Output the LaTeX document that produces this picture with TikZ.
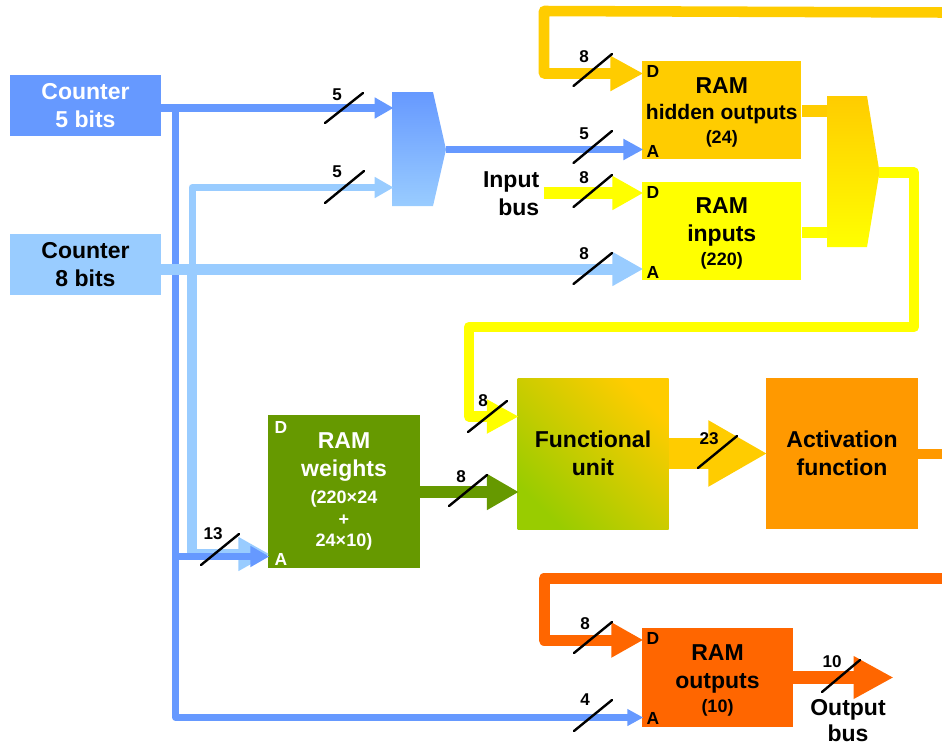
\documentclass[tikz,border=0pt]{standalone}
\usepackage{fontspec}
\setmainfont{Liberation Sans}
\usetikzlibrary{arrows.meta}
\definecolor{cblue}{HTML}{6699FF}
\definecolor{clight}{HTML}{99CCFF}
\definecolor{cgold}{HTML}{FFCC00}
\definecolor{cyel}{HTML}{FFFF00}
\definecolor{cgreen}{HTML}{669900}
\definecolor{clime}{HTML}{99CC00}
\definecolor{cor}{HTML}{FF9900}
\definecolor{cdor}{HTML}{FF6600}
\newcommand{\fbig}{\fontsize{17.25}{21}\selectfont\bfseries}
\newcommand{\fmid}{\fontsize{15.75}{21}\selectfont}
\newcommand{\fsml}{\fontsize{13.5}{21}\selectfont}
\newcommand{\topstrut}{\rule{0pt}{15.5pt}}
\tikzset{
  x=0.75pt,y=-0.75pt,
  box/.style={inner sep=0pt,align=center,font=\fbig},
  port/.style={inner sep=0pt,font=\fontsize{13.1}{15}\selectfont\bfseries,text height=9.4pt,text depth=0pt},
  num/.style={inner sep=0pt,font=\fontsize{12.8}{15}\selectfont\bfseries,text height=9.2pt,text depth=0pt},
  slash/.style={draw=black,line width=1.8pt,line cap=round},
  wire/.style={line join=round},
  hd/.style 2 args={arrows={-Triangle[length=#1,width=#2]},shorten >=-1.2pt},
}
\newcommand{\busmark}[7]{%
  \coordinate (#1a) at (#2,#3);
  \coordinate (#1b) at (#4,#5);
  \draw[slash] (#1a) -- (#1b);
  \node[num] (#1t) at (#6) {#7};
}
\begin{document}
\begin{tikzpicture}
\useasboundingbox (0,0) rectangle (942,746);
% boxes
\node[box,fill=cblue,text=white,minimum width=113.25pt,minimum height=45.75pt] (cnt5) at (85.5,105.5) {Counter\\5 bits};
\node[box,fill=clight,minimum width=113.25pt,minimum height=45.75pt] (cnt8) at (85.5,264.5) {Counter\\8 bits};
\node[box,fill=cgold,minimum width=119.6pt,minimum height=73.5pt] (hid) at (721.75,110) {\topstrut RAM\\[-1.5pt]{\fmid hidden outputs}\\[-3pt]{\fsml (24)}};
\node[box,fill=cyel,minimum width=119.6pt,minimum height=73.5pt] (inp) at (721.75,231) {\topstrut RAM\\inputs\\[-3pt]{\fsml (220)}};
\node[box,fill=cgreen,text=white,minimum width=114pt,minimum height=114.75pt] (rw) at (344,491.5) {RAM\\weights\\[-0.75pt]{\fsml (220×24}\\[-5pt]{\fsml +}\\[-5pt]{\fsml 24×10)}};
\node[box,shade,shading=axis,top color=cgold,bottom color=clime,shading angle=-45,minimum width=113.25pt,minimum height=113.25pt] (fu) at (593,453.5) {Functional\\unit};
\node[box,fill=cor,minimum width=114pt,minimum height=113.25pt] (af) at (842,453.5) {Activation\\function};
\node[box,fill=cdor,minimum width=113.25pt,minimum height=74.25pt] (rout) at (717.5,677.5) {\rule{0pt}{16.5pt}RAM\\outputs\\[-3pt]{\fsml (10)}};
% port letters
\node[port] (hidD) at (653,71) {D};
\node[port] (hidA) at (653,151) {A};
\node[port] (inpD) at (653,192) {D};
\node[port] (inpA) at (653,272) {A};
\node[port,text=white] (rwD) at (281,427) {D};
\node[port,text=white] (rwA) at (281,559) {A};
\node[port] (routD) at (653,638) {D};
\node[port] (routA) at (653,718) {A};
% free ends and junctions
\coordinate (muxBa) at (392,108);
\coordinate (muxBb) at (392,187.5);
\coordinate (muxBo) at (446,149.5);
\coordinate (muxGa) at (827,111);
\coordinate (muxGb) at (827,232.5);
\coordinate (muxGo) at (879,172.5);
\coordinate (goldR) at (942,12.5);
\coordinate (goldT) at (544,11);
\coordinate (goldB) at (544,73.5);
\coordinate (corR) at (942,578.5);
\coordinate (corL) at (544,578.5);
\coordinate (corB) at (544,640);
\coordinate (afR) at (942,453.5);
\coordinate (busIn) at (543.5,193);
\coordinate (busOut) at (892,677.5);
\coordinate (yelC) at (914,172.5);
\coordinate (yelD) at (914,327);
\coordinate (yelE) at (469,327);
\coordinate (yelF) at (469,416.5);
\coordinate (jb) at (175.5,108);
\coordinate (jl) at (192,269);
\coordinate (jc) at (175.5,556.5);
% wires behind the muxes
\draw[wire,cgold,line width=9pt] (hid.east |- muxGa) -- (muxGa);
\draw[wire,cyel,line width=8.25pt] (inp.east |- muxGb) -- (muxGb);
% muxes
\path[shade,top color=cblue,bottom color=clight] (392,92) -- (433,92) -- (446,149.5) -- (433,206) -- (392,206) -- cycle;
\path[shade,top color=cgold,bottom color=cyel] (827,96) -- (867,96) -- (879.5,172) -- (867,247) -- (827,247) -- cycle;
% light counter branches
\draw[wire,clight,line width=5.25pt,hd={14.25pt}{15pt}] (jl) |- (muxBb);
\draw[wire,clight,line width=7.5pt,hd={23.25pt}{24pt}] (jl) |- ([shift={(0,62.5)}]rw.west);
% blue counter lines
\draw[wire,cblue,line width=5.25pt] (jb) -- (jc);
\draw[wire,cblue,line width=6pt,hd={14.25pt}{15pt}] ([shift={(0,2.5)}]cnt5.east) -- (muxBa);
\draw[wire,cblue,line width=5.25pt,hd={14.25pt}{15pt}] (jc) -- ([shift={(0,65)}]rw.west);
\draw[wire,cblue,line width=5pt,hd={12pt}{12pt}] (jc) |- ([shift={(0,40)}]rout.west);
\draw[wire,cblue,line width=5.6pt,hd={15pt}{15pt}] (muxBo) -- (hid.west |- muxBo);
% light main
\draw[wire,clight,line width=8.25pt,hd={23.25pt}{24pt}] ([shift={(0,4.5)}]cnt8.east) -- ([shift={(0,38)}]inp.west);
% memory buses
\draw[wire,cgold,line width=7.9pt,hd={24.75pt}{24.75pt}] (goldR) -- (goldT) -- (goldB) -- ([shift={(0,-36.5)}]hid.west);
\draw[wire,cyel,line width=9pt,hd={23.25pt}{24pt}] (busIn) -- ([shift={(0,-38)}]inp.west);
\draw[wire,cyel,line width=7.9pt,hd={24pt}{24pt}] (muxGo) -- (yelC) -- (yelD) -- (yelE) -- (yelF) -- ([shift={(0,-37)}]fu.west);
\draw[wire,cgreen,line width=9pt,hd={24pt}{25.5pt}] ([shift={(0,0.5)}]rw.east) -- ([shift={(0,38.5)}]fu.west);
\draw[wire,cgold,line width=23.25pt,hd={44.25pt}{46.5pt}] (fu.east) -- (af.west);
\draw[wire,cor,line width=7.5pt] (af.east) -- (afR);
\draw[wire,cdor,line width=8.25pt,hd={24pt}{24.75pt}] (corR) -- (corL) -- (corB) -- ([shift={(0,-37.5)}]rout.west);
\draw[wire,cdor,line width=9.75pt,hd={30pt}{30pt}] (rout.east) -- (busOut);
% bus width marks
\busmark{m1}{573.5}{86}{612}{54}{584,56}{8}
\busmark{m2}{573.5}{163}{612}{131}{584,133}{5}
\busmark{m3}{573.5}{207}{612}{175}{584,177}{8}
\busmark{m4}{573.5}{284}{612}{253}{584,253}{8}
\busmark{m5}{325}{123}{363}{93}{337,94}{5}
\busmark{m6}{325}{203}{364}{171}{337,171}{5}
\busmark{m7}{201}{565}{239}{534}{213,533}{13}
\busmark{m8}{449}{506}{487}{475}{461,476}{8}
\busmark{m9}{468}{432}{507}{401}{483,400}{8}
\busmark{m10}{698}{468}{737}{436}{709,438}{23}
\busmark{m11}{574}{653}{612}{622}{585,623}{8}
\busmark{m12}{574}{731}{612}{700}{585,699}{4}
\busmark{m13}{822}{692}{860}{660}{832,661}{10}
% bus names
\node[box,align=right,anchor=east] (inbus) at (539.5,193.5) {Input\\bus};
\node[box] (outbus) at (848,720.5) {Output\\[-1pt]bus};
\end{tikzpicture}
\end{document}
